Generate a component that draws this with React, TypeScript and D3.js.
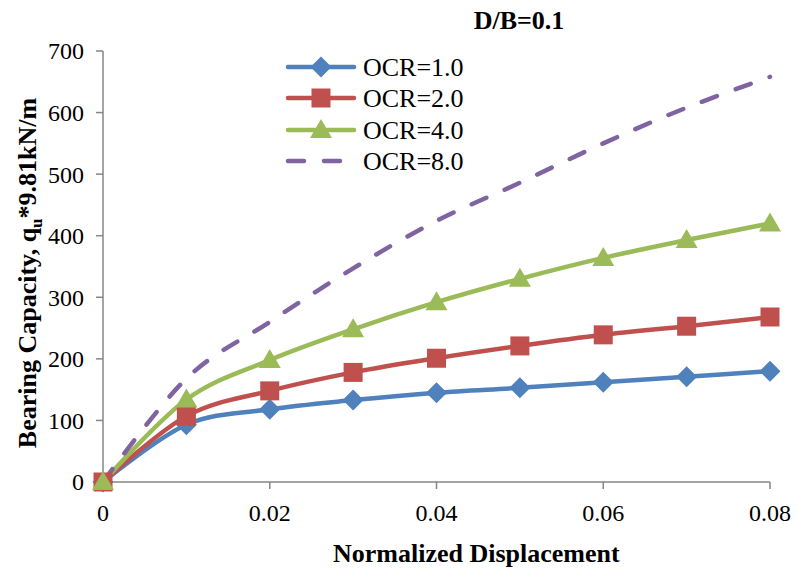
import React from "react";
import * as d3 from "d3";

const xValues = [0, 0.01, 0.02, 0.03, 0.04, 0.05, 0.06, 0.07, 0.08];
const ocr1 = [0, 93, 118, 133, 145, 153, 162, 171, 180];
const ocr2 = [0, 107, 148, 178, 201, 221, 239, 253, 268];
const ocr4 = [0, 134, 198, 248, 292, 330, 364, 393, 420];
const ocr8 = [0, 168, 260, 347, 424, 486, 550, 608, 658];
const seriesNames = ["OCR=1.0", "OCR=2.0", "OCR=4.0", "OCR=8.0"];
const xTicks = [0, 0.02, 0.04, 0.06, 0.08];
const xTickLabels = ["0", "0.02", "0.04", "0.06", "0.08"];
const yTicks = [0, 100, 200, 300, 400, 500, 600, 700];

const colors = ["#4F81BD", "#C0504D", "#9BBB59", "#8064A2"];
const markers = ["diamond", "square", "triangle", "none"];

export default function App() {
  const W = 797, H = 571;
  const x = d3.scaleLinear().domain([0, 0.08]).range([103, 770]);
  const y = d3.scaleLinear().domain([0, 700]).range([482, 51]);
  const font = "'Liberation Serif', 'Times New Roman', serif";
  const all = [ocr1, ocr2, ocr4, ocr8];
  const line = d3
    .line<number>()
    .x((_, i) => x(xValues[i]))
    .y((d) => y(d))
    .curve(d3.curveCatmullRom.alpha(0));

  const marker = (type: string, cx: number, cy: number, color: string, key: string) => {
    if (type === "diamond") {
      const s = 10.5;
      return <path key={key} d={`M${cx},${cy - s}L${cx + s},${cy}L${cx},${cy + s}L${cx - s},${cy}Z`} fill={color} />;
    }
    if (type === "square") {
      const s = 9.5;
      return <rect key={key} x={cx - s} y={cy - s} width={2 * s} height={2 * s} fill={color} />;
    }
    if (type === "triangle") {
      const s = 11;
      return <path key={key} d={`M${cx},${cy - s}L${cx + s},${cy + 8}L${cx - s},${cy + 8}Z`} fill={color} />;
    }
    return null;
  };

  const legendY = [67, 98, 130, 161];

  return (
    <svg width={W} height={H} style={{ position: "absolute", left: 0, top: 0, background: "#fff" }}>
      {/* axes */}
      <line x1={103} y1={51} x2={103} y2={482} stroke="#868686" strokeWidth={1.5} />
      <line x1={103} y1={482} x2={770} y2={482} stroke="#868686" strokeWidth={1.5} />
      {yTicks.map((t) => (
        <g key={"yt" + t}>
          <line x1={96} x2={103} y1={y(t)} y2={y(t)} stroke="#868686" strokeWidth={1.5} />
          <text x={84} y={y(t)} dy="0.35em" textAnchor="end" fontFamily={font} fontSize={24} fill="#000">
            {t}
          </text>
        </g>
      ))}
      {xTicks.map((t, i) => (
        <g key={"xt" + t}>
          <line x1={x(t)} x2={x(t)} y1={482} y2={489} stroke="#868686" strokeWidth={1.5} />
          <text x={x(t)} y={521} textAnchor="middle" fontFamily={font} fontSize={24} fill="#000">
            {xTickLabels[i]}
          </text>
        </g>
      ))}
      {/* series */}
      {all.map((vals, si) => (
        <path
          key={"l" + si}
          d={line(vals) || ""}
          fill="none"
          stroke={colors[si]}
          strokeWidth={4.5}
          strokeLinecap={si === 3 ? "round" : "butt"}
          strokeLinejoin="round"
          strokeDasharray={si === 3 ? "16 20" : undefined}
        />
      ))}
      {all.map((vals, si) =>
        vals.map((v, i) => marker(markers[si], x(xValues[i]), y(v), colors[si], `m${si}-${i}`))
      )}
      {/* legend */}
      {seriesNames.map((name, si) => (
        <g key={"lg" + si}>
          <line
            x1={288}
            x2={354}
            y1={legendY[si]}
            y2={legendY[si]}
            stroke={colors[si]}
            strokeWidth={4.5}
            strokeLinecap="round"
            strokeDasharray={si === 3 ? "16 20" : undefined}
          />
          {marker(markers[si], 321, legendY[si], colors[si], "lm" + si)}
          <text x={363} y={legendY[si]} dy="0.35em" fontFamily={font} fontSize={26} fill="#000">
            {name}
          </text>
        </g>
      ))}
      {/* titles */}
      <text x={519} y={29} textAnchor="middle" fontFamily={font} fontSize={26} fontWeight="bold">
        D/B=0.1
      </text>
      <text x={333} y={562} textAnchor="start" fontFamily={font} fontSize={26} fontWeight="bold">
        Normalized Displacement
      </text>
      <text
        transform="translate(36,273) rotate(-90)"
        textAnchor="middle"
        fontFamily={font}
        fontSize={26}
        fontWeight="bold"
      >
        Bearing Capacity, q
        <tspan fontSize={17} dy={6}>u</tspan>
        <tspan dy={-6}>*9.81kN/m</tspan>
      </text>
    </svg>
  );
}
